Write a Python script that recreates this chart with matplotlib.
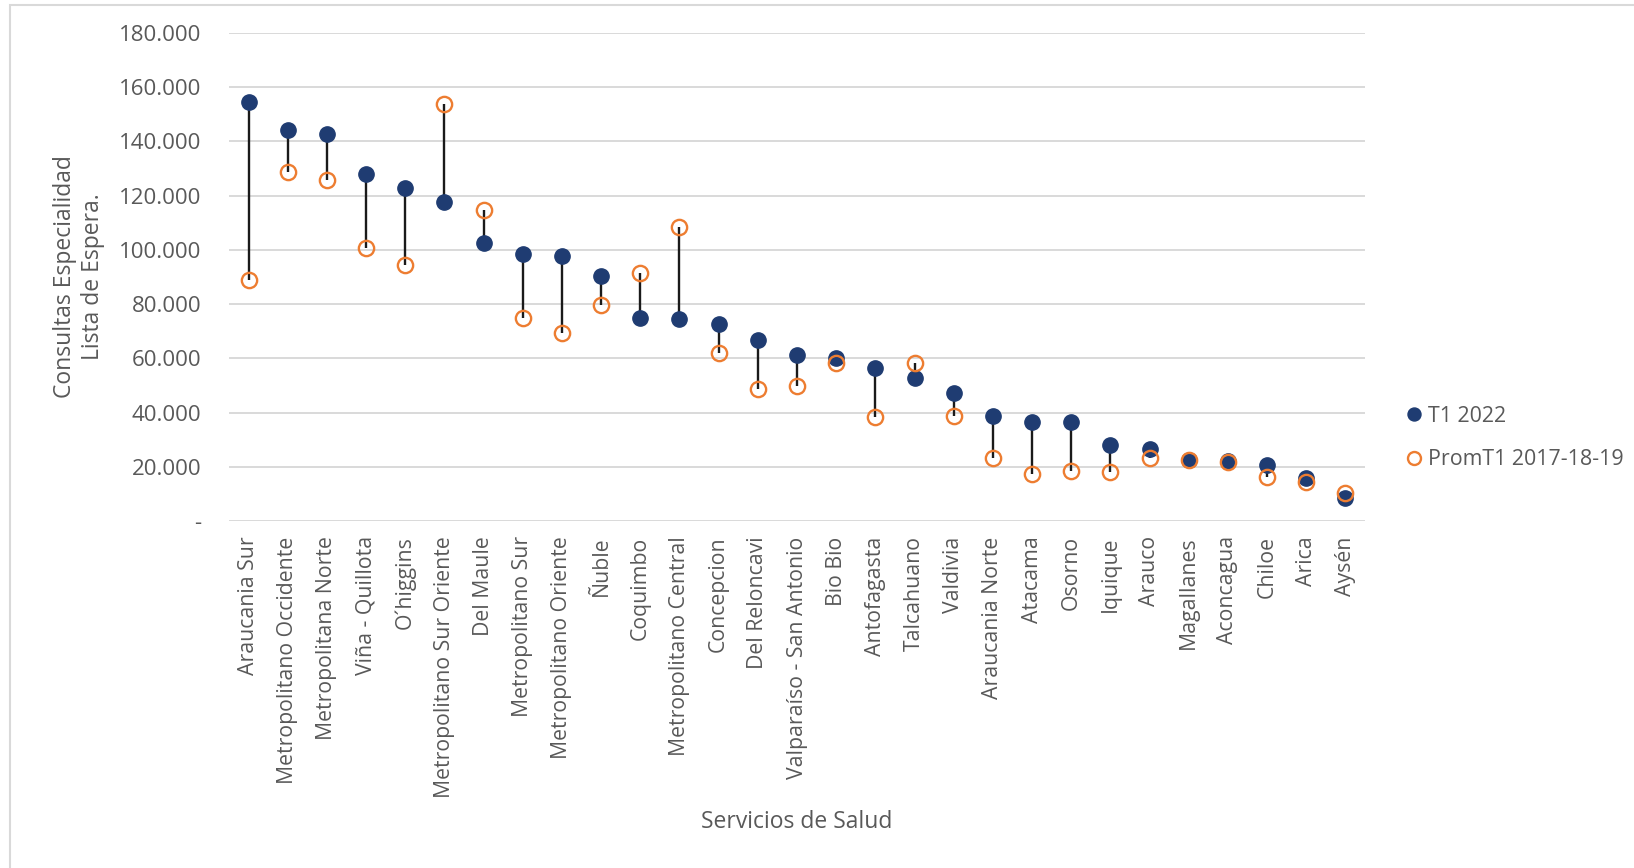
import matplotlib
matplotlib.use("Agg")
import matplotlib.pyplot as plt
from matplotlib.patches import Rectangle
from matplotlib.ticker import FuncFormatter

# Servicios de Salud, sorted by T1 2022
servicios = [
    "Araucania Sur", "Metropolitano Occidente", "Metropolitana Norte",
    "Viña - Quillota", "O´higgins", "Metropolitano Sur Oriente", "Del Maule",
    "Metropolitano Sur", "Metropolitano Oriente", "Ñuble", "Coquimbo",
    "Metropolitano Central", "Concepcion", "Del Reloncavi",
    "Valparaíso - San Antonio", "Bio Bio", "Antofagasta", "Talcahuano",
    "Valdivia", "Araucania Norte", "Atacama", "Osorno", "Iquique", "Arauco",
    "Magallanes", "Aconcagua", "Chiloe", "Arica", "Aysén",
]

t1_2022 = [
    154700, 144400, 142800, 128100, 122900, 117600, 102700,
    98400, 97800, 90200, 74800, 74600, 72500, 66900,
    61200, 60100, 56300, 52900, 47100, 38700, 36700, 36700,
    28100, 26700, 22600, 22000, 20600, 15700, 8500,
]

prom_2017_19 = [
    88800, 128900, 125900, 100800, 94600, 153700, 114700,
    75000, 69500, 79800, 91600, 108500, 62100, 48700,
    49900, 58400, 38400, 58200, 38900, 23400, 17500, 18500,
    18200, 23200, 22600, 21600, 16200, 14300, 10500,
]

navy = "#1f3c72"
orange = "#ed7d31"
grey_txt = "#595959"
grid_col = "#d9d9d9"

plt.rcParams["font.family"] = ["Open Sans", "DejaVu Sans"]

W, H = 1634, 868
fig = plt.figure(figsize=(W / 100, H / 100), dpi=100)
ax = fig.add_axes([229 / W, 1 - 521 / H, 1136 / W, 488 / H])

# light chart border like the Excel export
fig.patches.append(Rectangle((10 / W, -0.1), 1.0, 1.1 - 5 / H,
                             transform=fig.transFigure, fill=False,
                             edgecolor="#d9d9d9", lw=1.5))

x = list(range(len(servicios)))

# connectors between the two series
ax.vlines(x, t1_2022, prom_2017_19, color="#1a1a1a", lw=1.7, zorder=2)
ax.plot(x, t1_2022, "o", ls="none", color=navy, ms=11, zorder=3,
        label="T1 2022")
ax.plot(x, prom_2017_19, "o", ls="none", mfc="none", mec=orange, mew=1.7,
        ms=11, zorder=4, label="PromT1 2017-18-19")

ax.set_xlim(-0.5, len(servicios) - 0.5)
ax.set_ylim(0, 180000)
ax.set_yticks(range(0, 180001, 20000))
ax.yaxis.set_major_formatter(FuncFormatter(
    lambda v, p: "-" if v == 0 else f"{int(v):,}".replace(",", ".")))
ax.grid(axis="y", color=grid_col, lw=1.4)
ax.set_axisbelow(True)
for s in ax.spines.values():
    s.set_visible(False)

ax.set_xticks(x)
ax.set_xticklabels(servicios, rotation=90, fontsize=15.3, color=grey_txt)
ax.tick_params(axis="x", length=0, pad=11)
ax.tick_params(axis="y", length=0, pad=20, labelsize=16, labelcolor=grey_txt)

fig.text((229 + 1136 / 2) / W, 1 - 822 / H, "Servicios de Salud",
         ha="center", va="center", fontsize=16.5, color=grey_txt)
fig.text(79 / W, 1 - 277 / H, "Consultas Especialidad\nLista de Espera.",
         rotation=90, ha="center", va="center", fontsize=16.5,
         color=grey_txt, multialignment="center", linespacing=1.25)

ax.legend(loc="center left", bbox_to_anchor=(1395 / W, 1 - 438 / H),
          bbox_transform=fig.transFigure, frameon=False, fontsize=15.4,
          labelcolor=grey_txt, handlelength=0.8, handletextpad=0.25,
          labelspacing=1.05, markerscale=0.85, borderpad=0)

fig.savefig("out.png", dpi=100)
